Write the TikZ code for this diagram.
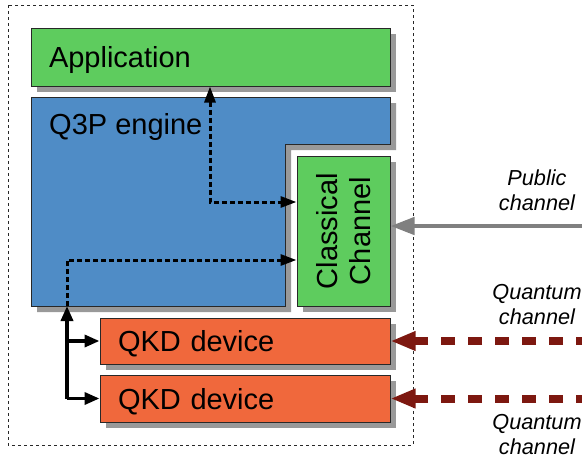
\documentclass[tikz,border=0pt]{standalone}
\usepackage{fontspec}
\setmainfont{Liberation Sans}
\usetikzlibrary{arrows.meta,shadows}
\definecolor{appgreen}{RGB}{94,204,94}
\definecolor{engblue}{RGB}{79,140,198}
\definecolor{qkdorange}{RGB}{240,104,60}
\definecolor{shadowgray}{RGB}{153,153,153}
\definecolor{edgegray}{RGB}{40,40,40}
\definecolor{pubgray}{RGB}{128,128,128}
\definecolor{qred}{RGB}{125,24,16}
\tikzset{
  boxshadow/.style={drop shadow={shadow xshift=6pt,shadow yshift=-6pt,fill=shadowgray,opacity=1}},
  layerbox/.style={draw=edgegray,line width=1pt,boxshadow,inner sep=0pt,font=\fontsize{29}{33}\selectfont},
  leftbox/.style={layerbox,align=left,inner xsep=18pt,text depth=0pt},
  dotlink/.style={line width=3pt,dash pattern=on 5pt off 3pt,-{Triangle[length=16pt,width=11pt]}},
  solidlink/.style={line width=3.5pt,-{Triangle[length=15pt,width=12pt]},line join=round},
  chanlabel/.style={font=\fontsize{21.7}{25}\selectfont\itshape,align=center},
}
\begin{document}
\begin{tikzpicture}[x=1pt,y=-1pt]
\useasboundingbox (0,0) rectangle (582,459);

% host boundary
\draw[edgegray,line width=0.8pt,dash pattern=on 3pt off 3pt] (8,5) rectangle (413,445);

% stack of layers
\node[leftbox,fill=appgreen,minimum width=359pt,minimum height=58pt,text width=323pt]
  (app) at (210.5,57) {Application};

\path[draw=edgegray,line width=1pt,fill=engblue,boxshadow]
  (31,97) -- (390,97) -- (390,144) -- (285,144) -- (285,306) -- (31,306) -- cycle;
\node[anchor=base west,font=\fontsize{29}{33}\selectfont,inner sep=0pt] (engtext) at (49,134) {Q3P engine};

\node[layerbox,fill=appgreen,minimum width=93pt,minimum height=150pt]
  (cc) at (343.5,231) {};
\node[rotate=90,align=center,font=\fontsize{29}{33}\selectfont,inner sep=0pt] (cctext) at (cc.center) {Classical\\Channel};

\node[leftbox,fill=qkdorange,minimum width=290pt,minimum height=46pt,text width=254pt]
  (qkda) at (245,341) {QKD device};
\node[leftbox,fill=qkdorange,minimum width=290pt,minimum height=47pt,text width=254pt]
  (qkdb) at (245,398.5) {QKD device};

% internal links
\coordinate (upturn) at (210,202);
\coordinate (lowturn) at (67,260);
\coordinate (engbot) at (67,306);
\coordinate (qcorner) at (67,398.5);

\draw[dotlink,{Triangle[length=16pt,width=11pt]}-{Triangle[length=16pt,width=11pt]}]
  (app.south -| upturn) -- (upturn) -- (upturn -| cc.west);
\draw[dotlink] (engbot) -- (lowturn) -- (lowturn -| cc.west);

\draw[solidlink] (qcorner) -- (engbot);
\draw[solidlink] (qkda.west -| qcorner) -- (qkda.west);
\draw[solidlink] (qcorner) -- (qkdb.west);

% external channels
\coordinate (pubsrc) at (582,226);
\coordinate (qsrca) at (590,341);
\coordinate (qsrcb) at (590,398.5);
\draw[pubgray,line width=4.5pt,-{Triangle[length=24pt,width=17pt]}] (pubsrc) -- (cc.east |- pubsrc);
\draw[qred,line width=8pt,dash pattern=on 14pt off 13pt,-{Triangle[length=25pt,width=18pt]}] (qsrca) -- (qkda.east);
\draw[qred,line width=8pt,dash pattern=on 14pt off 13pt,-{Triangle[length=25pt,width=18pt]}] (qsrcb) -- (qkdb.east);

\node[chanlabel] (publbl) at (537,190) {Public\\channel};
\node[chanlabel] (qlbla) at (537,305) {Quantum\\channel};
\node[chanlabel] (qlblb) at (537,435) {Quantum\\channel};
\end{tikzpicture}
\end{document}
